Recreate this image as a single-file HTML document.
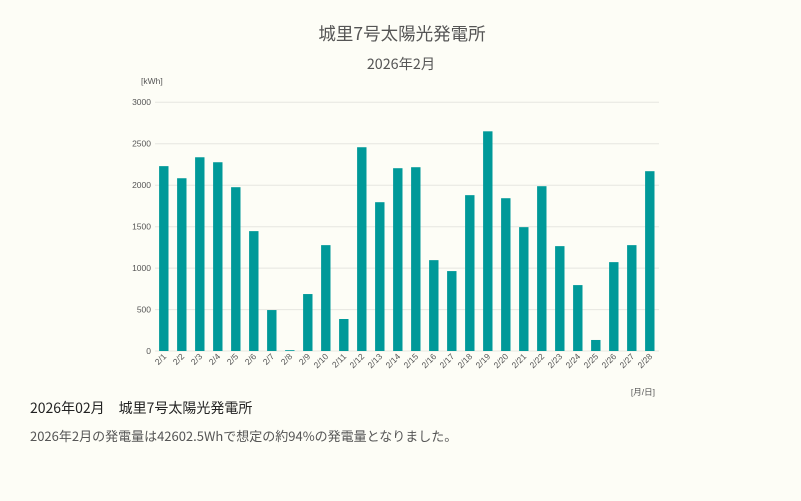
<!DOCTYPE html><html><head><meta charset="utf-8"><style>
body{margin:0;background:#fdfdf6;width:801px;height:501px;overflow:hidden;font-family:"Liberation Sans","Noto Sans CJK JP",sans-serif}
</style></head><body>
<svg width="801" height="501" style="position:absolute;left:0;top:0" font-family="Liberation Sans, Noto Sans CJK JP, sans-serif">
<text x="402" y="40" text-anchor="middle" font-size="17.5" fill="#555" font-family="Noto Sans CJK JP, sans-serif">城里7号太陽光発電所</text>
<text x="401" y="69" text-anchor="middle" font-size="14.3" fill="#555" font-family="Noto Sans CJK JP, sans-serif">2026年2月</text>
<text x="141" y="84" font-size="8.5" fill="#555">[kWh]</text>
<g stroke="#e6e6e0" stroke-width="1">
<line x1="155" x2="659" y1="102.3" y2="102.3"/><line x1="155" x2="659" y1="143.8" y2="143.8"/><line x1="155" x2="659" y1="185.2" y2="185.2"/><line x1="155" x2="659" y1="226.7" y2="226.7"/><line x1="155" x2="659" y1="268.1" y2="268.1"/><line x1="155" x2="659" y1="309.6" y2="309.6"/><line x1="155" x2="659" y1="351" y2="351"/>
</g>
<g font-size="8.5" fill="#555" text-anchor="end">
<text x="151" y="105">3000</text><text x="151" y="146.5">2500</text><text x="151" y="188">2000</text><text x="151" y="229.5">1500</text><text x="151" y="271">1000</text><text x="151" y="312.5">500</text><text x="151" y="354">0</text>
</g>
<g id="bars" fill="#009999"></g>
<g id="lbl" font-size="8.5" fill="#555"></g>
<text x="655" y="395" text-anchor="end" font-size="8.5" fill="#555">[月/日]</text>
<text x="30" y="413" font-size="14" fill="#222" font-family="Noto Sans CJK JP, sans-serif">2026年02月　城里7号太陽光発電所</text>
<text x="30" y="441" font-size="13" fill="#555" font-family="Noto Sans CJK JP, sans-serif">2026年2月の発電量は42602.5Whで想定の約94%の発電量となりました。</text>
</svg>
<script>
var v=[2230,2084,2337,2277,1976,1446,494,10,687,1277,386,2458,1795,2205,2217,1096,964,1880,2650,1843,1494,1988,1265,795,133,1072,1277,2169];
var b=document.getElementById('bars'),l=document.getElementById('lbl'),ns='http://www.w3.org/2000/svg';
v.forEach(function(x,i){var cx=163.8+18*i,h=x*248.7/3000;
var r=document.createElementNS(ns,'rect');r.setAttribute('x',cx-4.7);r.setAttribute('width',9.4);r.setAttribute('y',351-h);r.setAttribute('height',h);b.appendChild(r);
var t=document.createElementNS(ns,'text');t.setAttribute('text-anchor','end');t.setAttribute('transform','translate('+(cx+3)+',357) rotate(-45)');t.textContent='2/'+(i+1);l.appendChild(t);});
</script>
</body></html>
